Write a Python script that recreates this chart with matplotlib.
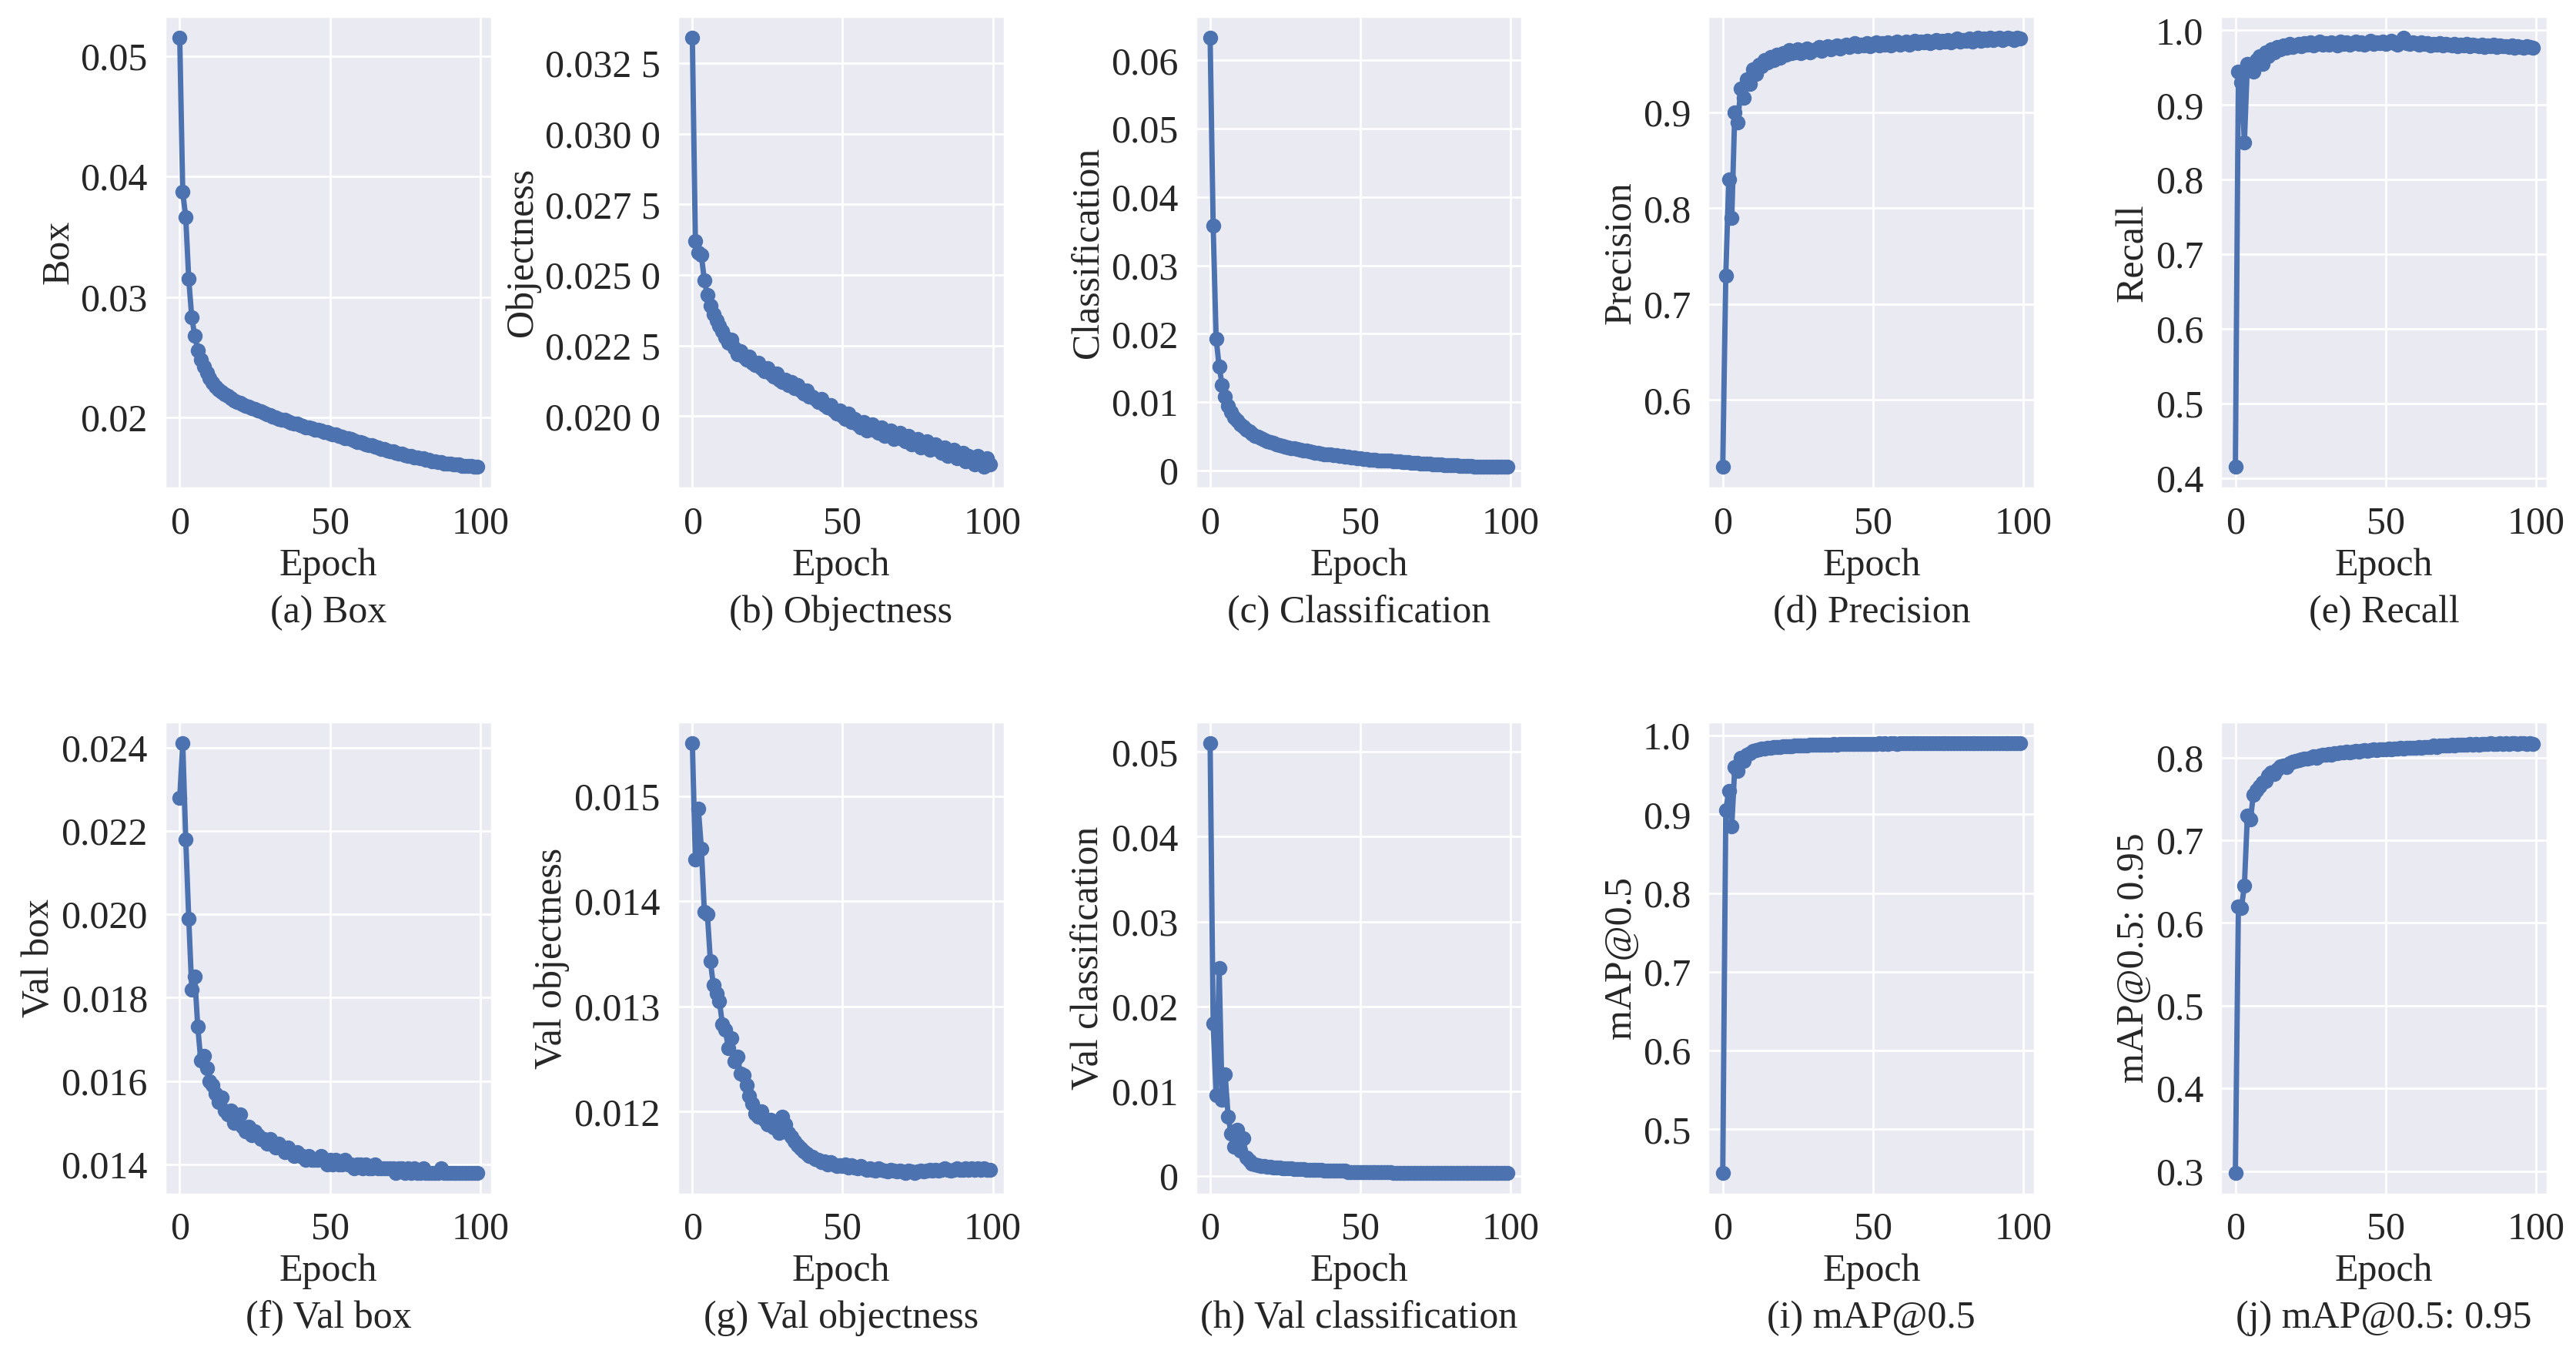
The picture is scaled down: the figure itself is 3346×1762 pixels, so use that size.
import matplotlib
matplotlib.use("Agg")
import matplotlib.pyplot as plt
import seaborn as sns
from matplotlib.ticker import FixedLocator, FixedFormatter

epochs = list(range(100))

box = [.0515, .0387, .0366, .0315, .0283, .0268, .0256, .0248, .0242, .0237,
       .0233, .0229, .0226, .0223, .0221, .0219, .0218, .0216, .0214, .0213,
       .0212, .0211, .0210, .0209, .0208, .0207, .0206, .0205, .0204, .0203,
       .0202, .0201, .0200, .0199, .0198, .0198, .0197, .0196, .0195, .0195,
       .0194, .0193, .0192, .0192, .0191, .0190, .0190, .0189, .0188, .0188,
       .0187, .0186, .0186, .0185, .0184, .0183, .0183, .0182, .0181, .0180,
       .0180, .0179, .0178, .0177, .0177, .0176, .0175, .0174, .0174, .0173,
       .0172, .0172, .0171, .0170, .0170, .0169, .0168, .0168, .0167, .0167,
       .0166, .0166, .0165, .0165, .0164, .0164, .0163, .0163, .0162, .0162,
       .0162, .0161, .0161, .0161, .0160, .0160, .0160, .0160, .0159, .0159]

objectness = [.0334, .0262, .0258, .0257, .0248, .0243, .0239, .0236, .0234, .0232,
              .0230, .0228, .0226, .0227, .0224, .0222, .0223, .0221, .0220, .0221,
              .0219, .0218, .0219, .0217, .0216, .0217, .0215, .0214, .0215, .0213,
              .0212, .0213, .0211, .0212, .0210, .0211, .0209, .0208, .0209, .0207,
              .0207, .0206, .0205, .0206, .0204, .0203, .0204, .0202, .0201, .0202,
              .0200, .0199, .0201, .0198, .0199, .0197, .0196, .0198, .0195, .0196,
              .0197, .0195, .0194, .0196, .0193, .0194, .0195, .0192, .0193, .0194,
              .0192, .0191, .0193, .0190, .0191, .0192, .0189, .0190, .0191, .0188,
              .0189, .0190, .0188, .0187, .0189, .0186, .0187, .0188, .0185, .0186,
              .0187, .0184, .0186, .0185, .0183, .0186, .0184, .0182, .0185, .0183]

classification = [.0633, .0358, .0193, .0152, .0125, .0108, .0095, .0085, .0078, .0073,
                  .0068, .0064, .0060, .0057, .0054, .0051, .0049, .0047, .0045, .0043,
                  .0041, .0040, .0038, .0037, .0036, .0035, .0034, .0033, .0032, .0031,
                  .0030, .0029, .0029, .0028, .0027, .0026, .0026, .0025, .0024, .0024,
                  .0023, .0022, .0022, .0021, .0021, .0020, .0020, .0019, .0019, .0018,
                  .0018, .0017, .0017, .0016, .0016, .0016, .0015, .0015, .0014, .0014,
                  .0014, .0013, .0013, .0013, .0012, .0012, .0012, .0011, .0011, .0011,
                  .0010, .0010, .0010, .0010, .0009, .0009, .0009, .0009, .0008, .0008,
                  .0008, .0008, .0008, .0007, .0007, .0007, .0007, .0007, .0006, .0006,
                  .0006, .0006, .0006, .0006, .0006, .0005, .0005, .0005, .0005, .0005]

precision = [.530, .730, .830, .790, .900, .890, .925, .915, .935, .930,
             .945, .940, .950, .948, .955, .952, .958, .955, .960, .957,
             .962, .960, .965, .962, .963, .966, .962, .964, .967, .963,
             .965, .966, .968, .964, .967, .969, .966, .968, .970, .967,
             .969, .971, .968, .970, .972, .969, .971, .970, .972, .969,
             .971, .973, .970, .972, .971, .973, .970, .972, .974, .971,
             .972, .974, .971, .973, .975, .972, .974, .973, .975, .972,
             .974, .976, .973, .975, .974, .976, .973, .975, .977, .974,
             .976, .975, .977, .974, .976, .978, .975, .977, .976, .978,
             .976, .977, .978, .976, .977, .978, .977, .976, .978, .977]

recall = [.415, .945, .930, .850, .955, .950, .945, .960, .965, .955,
          .970, .965, .975, .970, .978, .975, .980, .977, .982, .978,
          .980, .982, .979, .983, .981, .984, .980, .982, .985, .981,
          .983, .981, .984, .982, .980, .985, .982, .984, .981, .983,
          .985, .982, .984, .981, .983, .986, .982, .984, .983, .985,
          .982, .984, .986, .983, .981, .985, .990, .983, .982, .984,
          .983, .981, .984, .982, .983, .980, .982, .981, .983, .980,
          .982, .981, .980, .982, .979, .981, .980, .982, .979, .981,
          .980, .979, .981, .978, .980, .979, .981, .978, .980, .979,
          .979, .978, .980, .977, .979, .978, .977, .979, .978, .977]

val_box = [.0228, .0241, .0218, .0199, .0182, .0185, .0173, .0165, .0166, .0163,
           .0160, .0159, .0157, .0155, .0156, .0153, .0152, .0153, .0150, .0151,
           .0152, .0149, .0148, .0149, .0147, .0148, .0147, .0146, .0146, .0145,
           .0146, .0145, .0144, .0145, .0144, .0143, .0144, .0143, .0142, .0143,
           .0142, .0142, .0141, .0142, .0141, .0141, .0141, .0142, .0141, .0140,
           .0141, .0140, .0141, .0140, .0140, .0141, .0140, .0140, .0139, .0140,
           .0140, .0139, .0140, .0139, .0139, .0140, .0139, .0139, .0139, .0139,
           .0139, .0139, .0138, .0139, .0139, .0138, .0139, .0138, .0139, .0138,
           .0138, .0139, .0138, .0138, .0138, .0138, .0138, .0139, .0138, .0138,
           .0138, .0138, .0138, .0138, .0138, .0138, .0138, .0138, .0138, .0138]

val_objectness = [.01550, .01440, .01488, .01450, .01390, .01388, .01343, .01320, .01312, .01305,
                  .01283, .01278, .01260, .01270, .01248, .01252, .01236, .01235, .01225, .01215,
                  .01208, .01198, .01195, .01200, .01192, .01188, .01192, .01185, .01190, .01180,
                  .01195, .01188, .01180, .01176, .01172, .01168, .01165, .01162, .01160, .01158,
                  .01157, .01155, .01154, .01152, .01153, .01150, .01152, .01150, .01148, .01149,
                  .01148, .01150, .01147, .01149, .01147, .01146, .01148, .01146, .01145, .01146,
                  .01145, .01144, .01146, .01145, .01144, .01143, .01145, .01144, .01143, .01144,
                  .01143, .01142, .01144, .01143, .01142, .01143, .01144, .01143, .01144, .01145,
                  .01144, .01145, .01144, .01145, .01146, .01145, .01144, .01145, .01146, .01145,
                  .01145, .01146, .01145, .01146, .01145, .01146, .01145, .01146, .01145, .01145]

val_classification = [.0510, .0180, .0095, .0245, .0090, .0120, .0070, .0050, .0035, .0055,
                      .0030, .0045, .0022, .0018, .0015, .0014, .0013, .0012, .0012, .0011,
                      .0011, .0010, .0010, .0010, .0009, .0009, .0009, .0009, .0008, .0008,
                      .0008, .0008, .0007, .0007, .0007, .0007, .0007, .0007, .0006, .0006,
                      .0006, .0006, .0006, .0006, .0006, .0006, .0005, .0005, .0005, .0005,
                      .0005, .0005, .0005, .0005, .0005, .0005, .0005, .0005, .0005, .0005,
                      .0005, .0004, .0004, .0004, .0004, .0004, .0004, .0004, .0004, .0004,
                      .0004, .0004, .0004, .0004, .0004, .0004, .0004, .0004, .0004, .0004,
                      .0004, .0004, .0004, .0004, .0004, .0004, .0004, .0004, .0004, .0004,
                      .0004, .0004, .0004, .0004, .0004, .0004, .0004, .0004, .0004, .0004]

map50 = [.445, .905, .930, .885, .960, .955, .972, .968, .976, .978,
         .980, .981, .982, .983, .983, .984, .984, .985, .985, .985,
         .986, .986, .986, .986, .987, .987, .987, .987, .987, .988,
         .988, .988, .988, .988, .988, .988, .988, .989, .988, .989,
         .989, .989, .989, .989, .989, .989, .989, .989, .989, .989,
         .989, .989, .990, .989, .990, .989, .990, .990, .989, .990,
         .990, .990, .990, .990, .990, .990, .990, .990, .990, .990,
         .990, .990, .990, .990, .990, .990, .990, .990, .990, .990,
         .990, .990, .990, .990, .990, .990, .990, .990, .990, .990,
         .990, .990, .990, .990, .990, .990, .990, .990, .990, .990]

map50_95 = [.298, .620, .618, .645, .730, .725, .755, .760, .765, .770,
            .772, .778, .782, .780, .786, .789, .790, .788, .793, .795,
            .796, .797, .798, .799, .799, .800, .801, .800, .802, .803,
            .803, .804, .803, .805, .805, .806, .806, .807, .806, .807,
            .808, .807, .808, .809, .808, .809, .810, .809, .810, .810,
            .810, .811, .810, .811, .811, .812, .811, .812, .812, .812,
            .812, .813, .812, .813, .813, .813, .814, .813, .814, .814,
            .814, .814, .815, .814, .815, .815, .815, .815, .816, .815,
            .816, .815, .816, .816, .816, .817, .816, .816, .817, .816,
            .817, .816, .817, .817, .816, .817, .817, .816, .817, .816]

panels = [
    (box, "Box", "(a) Box", [0.02, 0.03, 0.04, 0.05], None),
    (objectness, "Objectness", "(b) Objectness",
     [0.0200, 0.0225, 0.0250, 0.0275, 0.0300, 0.0325],
     ["0.020 0", "0.022 5", "0.025 0", "0.027 5", "0.030 0", "0.032 5"]),
    (classification, "Classification", "(c) Classification",
     [0, 0.01, 0.02, 0.03, 0.04, 0.05, 0.06],
     ["0", "0.01", "0.02", "0.03", "0.04", "0.05", "0.06"]),
    (precision, "Precision", "(d) Precision", [0.6, 0.7, 0.8, 0.9], None),
    (recall, "Recall", "(e) Recall", [0.4, 0.5, 0.6, 0.7, 0.8, 0.9, 1.0], None),
    (val_box, "Val box", "(f) Val box", [0.014, 0.016, 0.018, 0.020, 0.022, 0.024], None),
    (val_objectness, "Val objectness", "(g) Val objectness", [0.012, 0.013, 0.014, 0.015], None),
    (val_classification, "Val classification", "(h) Val classification",
     [0, 0.01, 0.02, 0.03, 0.04, 0.05], ["0", "0.01", "0.02", "0.03", "0.04", "0.05"]),
    (map50, "mAP@0.5", "(i) mAP@0.5", [0.5, 0.6, 0.7, 0.8, 0.9, 1.0], None),
    (map50_95, "mAP@0.5: 0.95", "(j) mAP@0.5: 0.95", [0.3, 0.4, 0.5, 0.6, 0.7, 0.8], None),
]

sns.set_theme(style="darkgrid")
plt.rcParams['font.family'] = ['Liberation Serif', 'DejaVu Serif']

fig = plt.figure(figsize=(16.73, 8.81), dpi=200)
lefts = [0.064, 0.263, 0.464, 0.663, 0.862]
bottoms = [0.64, 0.12]
w, h = 0.127, 0.348

for i, (vals, ylab, cap, ticks, labels) in enumerate(panels):
    r, c = divmod(i, 5)
    ax = fig.add_axes([lefts[c], bottoms[r], w, h])
    ax.plot(epochs, vals, color="#4C72B0", lw=2.5, marker="o", ms=6)
    ax.set_xticks([0, 50, 100])
    ax.yaxis.set_major_locator(FixedLocator(ticks))
    if labels is not None:
        ax.yaxis.set_major_formatter(FixedFormatter(labels))
    ax.tick_params(labelsize=18, pad=2)
    ax.set_xlabel("Epoch", fontsize=18, labelpad=3)
    ax.set_ylabel(ylab, fontsize=18, labelpad=2)
    ax.text(0.5, -0.225, cap, transform=ax.transAxes, ha="center", va="top", fontsize=18)

fig.savefig("out.png", dpi=200)
